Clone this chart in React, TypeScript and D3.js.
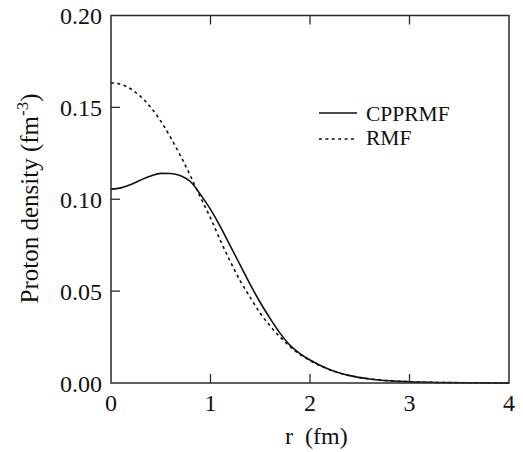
import React from "react";
import * as d3 from "d3";

const radii = [0, 0.1, 0.2, 0.3, 0.4, 0.5, 0.6, 0.7, 0.8, 0.9, 1.0, 1.1, 1.2, 1.3, 1.4, 1.5, 1.6, 1.7, 1.8, 1.9, 2.0, 2.2, 2.4, 2.6, 2.8, 3.0, 3.3, 3.6, 4.0];
const cpprmf = [0.1055, 0.1062, 0.1080, 0.1105, 0.1127, 0.1141, 0.1140, 0.1128, 0.1095, 0.1025, 0.0945, 0.0850, 0.0745, 0.0640, 0.0535, 0.0438, 0.0350, 0.0270, 0.0205, 0.0160, 0.0125, 0.0072, 0.0040, 0.0022, 0.0012, 0.0007, 0.0003, 0.0001, 0.0000];
const rmf = [0.1634, 0.1625, 0.1600, 0.1558, 0.1500, 0.1425, 0.1335, 0.1235, 0.1125, 0.1010, 0.0898, 0.0775, 0.0660, 0.0555, 0.0465, 0.0380, 0.0310, 0.0250, 0.0198, 0.0155, 0.0122, 0.0072, 0.0040, 0.0022, 0.0012, 0.0007, 0.0003, 0.0001, 0.0000];
const xTicks = [0, 1, 2, 3, 4];
const yTicks = [0, 0.05, 0.1, 0.15, 0.2];
const seriesNames = ["CPPRMF", "RMF"];

const W = 523, H = 452;
const L = 111, R = 509, T = 15.5, B = 383;
const FONT = "Liberation Serif, Times New Roman, Tinos, DejaVu Serif, serif";
const AX = "#2a2a2a";
const ts = { fontFamily: FONT };

export default function App() {
  const x = d3.scaleLinear().domain([0, 4]).range([L, R]);
  const y = d3.scaleLinear().domain([0, 0.2]).range([B, T]);
  const line = d3
    .line<number>()
    .x((_, i) => x(radii[i]))
    .y((d) => y(d))
    .curve(d3.curveMonotoneX);
  const tickLen = 9;
  const inner = xTicks.filter((t) => t > 0 && t < 4);
  const innerY = yTicks.filter((t) => t > 0 && t < 0.2);
  return (
    <svg width={W} height={H} style={{ position: "absolute", left: 0, top: 0, background: "#fff" }}>
      <path d={line(rmf) || ""} fill="none" stroke="#111" strokeWidth={1.6} strokeDasharray="3,3.4" />
      <path d={line(cpprmf) || ""} fill="none" stroke="#111" strokeWidth={1.6} />
      <rect x={L} y={T} width={R - L} height={B - T} fill="none" stroke={AX} strokeWidth={1.5} />
      {inner.map((t) => (
        <g key={"xt" + t}>
          <line x1={x(t)} x2={x(t)} y1={B} y2={B - tickLen} stroke={AX} strokeWidth={1.3} />
          <line x1={x(t)} x2={x(t)} y1={T} y2={T + tickLen} stroke={AX} strokeWidth={1.3} />
        </g>
      ))}
      {innerY.map((t) => (
        <line key={"yt" + t} x1={L} x2={L + tickLen} y1={y(t)} y2={y(t)} stroke={AX} strokeWidth={1.3} />
      ))}
      {xTicks.map((t) => (
        <text key={"xl" + t} x={x(t)} y={411} fontSize={24} textAnchor="middle" fill="#111" style={ts}>
          {String(t)}
        </text>
      ))}
      {yTicks.map((t) => (
        <text key={"yl" + t} x={102} y={y(t) + 8.5} fontSize={24} textAnchor="end" fill="#111" style={ts}>
          {t.toFixed(2)}
        </text>
      ))}
      <text x={285} y={444} fontSize={24} fill="#111" style={{ ...ts, whiteSpace: "pre" }}>
        {"r  (fm)"}
      </text>
      <text transform="translate(38,198.5) rotate(-90)" fontSize={25} textAnchor="middle" fill="#111" style={ts}>
        Proton density (fm
        <tspan fontSize={17} dy={-10}>-3</tspan>
        <tspan dy={10}>)</tspan>
      </text>
      <line x1={319} x2={357} y1={113} y2={113} stroke="#111" strokeWidth={1.6} />
      <text x={366} y={121} fontSize={21.5} fill="#111" style={ts}>{seriesNames[0]}</text>
      <line x1={319} x2={357} y1={139} y2={139} stroke="#111" strokeWidth={1.6} strokeDasharray="3,3.4" />
      <text x={366} y={144.5} fontSize={21.5} fill="#111" style={ts}>{seriesNames[1]}</text>
    </svg>
  );
}
